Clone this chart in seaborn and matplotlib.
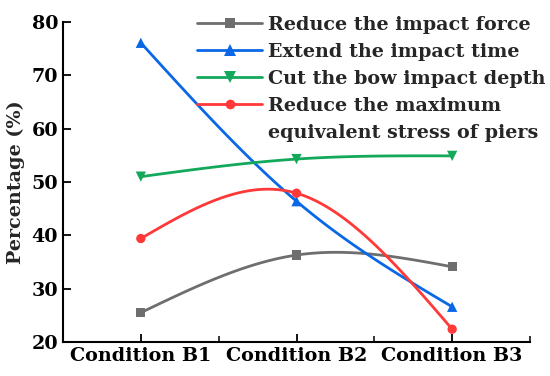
import numpy as np
import pandas as pd
import matplotlib
matplotlib.use("Agg")
import matplotlib.pyplot as plt
import seaborn as sns
from matplotlib.lines import Line2D
from matplotlib.ticker import MultipleLocator

# =====================================================
# Data
# =====================================================
conditions = ["Condition B1", "Condition B2", "Condition B3"]
impact_force = [25.5, 36.3, 34.1]
impact_time = [76.1, 46.4, 26.6]
bow_depth = [51.0, 54.3, 54.9]
pier_stress = [39.4, 47.9, 22.4]

series_names = ["Reduce the impact force",
                "Extend the impact time",
                "Cut the bow impact depth",
                "Reduce the maximum"]
# the last legend label wraps onto a second row with no handle
label_tail = "equivalent stress of piers"
series_values = [impact_force, impact_time, bow_depth, pier_stress]
colors = ["#6e6e6e", "#0a68e6", "#14a85a", "#ff3838"]
markers = ["s", "^", "v", "o"]


def natural_spline(y, n=60):
    # natural cubic spline through equally spaced points (x = 0, 1, 2, ...)
    y = np.asarray(y, float)
    k = len(y)
    A = np.zeros((k, k))
    b = np.zeros(k)
    A[0, 0] = A[-1, -1] = 1
    for i in range(1, k - 1):
        A[i, i - 1:i + 2] = [1, 4, 1]
        b[i] = 6 * (y[i - 1] - 2 * y[i] + y[i + 1])
    M = np.linalg.solve(A, b)
    xs, ys = [], []
    for i in range(k - 1):
        t = np.linspace(0, 1, n)
        s = (y[i] * (1 - t) + y[i + 1] * t
             + M[i] / 6 * ((1 - t) ** 3 - (1 - t)) + M[i + 1] / 6 * (t ** 3 - t))
        xs.append(i + t)
        ys.append(s)
    return np.concatenate(xs), np.concatenate(ys)


# =====================================================
# Plot
# =====================================================
sns.set_style("ticks")
plt.rcParams["font.family"] = ["DejaVu Serif"]
plt.rcParams["font.weight"] = "bold"
FS = 13.8

fig = plt.figure(figsize=(5.5, 3.76), dpi=100)
ax = fig.add_axes([63 / 550, 1 - 342 / 376, 467 / 550, 320 / 376])

x_pos = np.arange(len(conditions))
handles = []
for name, vals, c, m in zip(series_names, series_values, colors, markers):
    xs, ys = natural_spline(vals)
    curve = pd.DataFrame({"x": xs, "y": ys})
    sns.lineplot(data=curve, x="x", y="y", color=c, lw=2, ax=ax, legend=False)
    pts = pd.DataFrame({"x": x_pos, "y": vals})
    sns.scatterplot(data=pts, x="x", y="y", color=c, marker=m,
                    s=55 if m in "^v" else 45,
                    edgecolor="none", ax=ax, legend=False, zorder=3)
    handles.append(Line2D([], [], color=c, lw=2, marker=m,
                          markersize=8 if m in "^v" else 7,
                          markeredgewidth=0, label=name))
handles.append(Line2D([], [], color="none", lw=0, label=label_tail))

ax.set_xlim(-0.5, 2.5)
ax.set_ylim(20, 80)
ax.set_xticks(x_pos)
ax.set_xticklabels(conditions)
ax.set_xticks([0.5, 1.5, 2.5], minor=True)
ax.yaxis.set_major_locator(MultipleLocator(10))
ax.tick_params(axis="both", which="major", direction="in", length=6, width=1.3,
               labelsize=FS, colors="black")
ax.tick_params(axis="x", which="minor", direction="in", length=4, width=1.3)
ax.set_xlabel("")
ax.set_ylabel("Percentage (%)", fontsize=FS, fontweight="bold", labelpad=5)
sns.despine(ax=ax)
for s in ["left", "bottom"]:
    ax.spines[s].set_linewidth(1.5)
    ax.spines[s].set_color("black")

fig.legend(handles=handles, loc="upper left",
           bbox_to_anchor=(197 / 550, 1 - 16 / 376),
           frameon=False, borderpad=0, borderaxespad=0, handlelength=3.4,
           handletextpad=0.3, labelspacing=0.47,
           prop={"family": "DejaVu Serif", "weight": "bold", "size": FS})

plt.savefig("out.png", dpi=100)
